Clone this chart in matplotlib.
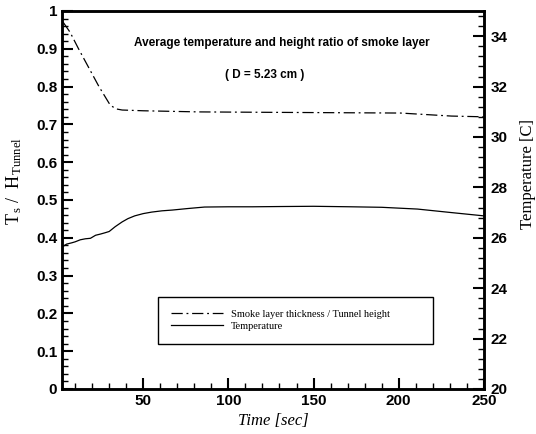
import matplotlib
matplotlib.use("Agg")
import matplotlib.pyplot as plt
import matplotlib.transforms as mtransforms
from matplotlib.ticker import MultipleLocator
from matplotlib.font_manager import FontProperties

plt.rcParams['mathtext.fontset'] = 'custom'
plt.rcParams['mathtext.rm'] = 'Liberation Serif'
plt.rcParams['mathtext.it'] = 'Liberation Serif:italic'

# 烟层厚度 / 隧道高度
t_smoke = [3, 7, 12, 18, 24, 30.6, 34, 37.6, 50, 83, 120, 160, 201, 231, 250]
ratio = [0.97, 0.944, 0.90, 0.85, 0.80, 0.751, 0.741, 0.738, 0.736, 0.733, 0.732, 0.731, 0.730, 0.722, 0.720]

# 平均温度
t_temp = [2.5, 5, 8, 10, 13, 16, 19, 22, 25, 27.6, 30, 33.5, 37.6, 41, 45, 50, 55, 61, 67, 76, 86, 100, 114, 130, 150, 172, 190, 211, 231, 250]
temp = [25.64, 25.75, 25.80, 25.84, 25.92, 25.96, 25.98, 26.10, 26.15, 26.20, 26.25, 26.44, 26.63, 26.76, 26.87, 26.96, 27.02, 27.07, 27.10, 27.16, 27.22, 27.23, 27.23, 27.24, 27.25, 27.23, 27.21, 27.14, 27.00, 26.87]

lab_smoke = 'Smoke layer thickness / Tunnel height'
lab_temp = 'Temperature'

fig = plt.figure(figsize=(5.36, 4.34), dpi=100)
ax = fig.add_axes([0.1157, 0.1037, 0.787, 0.871])
ax2 = ax.twinx()

l1, = ax.plot(t_smoke, ratio, color='black', lw=0.9, dashes=(9, 3, 1.5, 3), label=lab_smoke)
l2, = ax2.plot(t_temp, temp, color='black', lw=0.9, label=lab_temp)

ax.set_xlim(2.3, 250)
ax.set_ylim(0, 1)
ax2.set_ylim(20, 35)

ax.set_xticks([50, 100, 150, 200, 250])
ax.xaxis.set_minor_locator(MultipleLocator(10))
ax.yaxis.set_minor_locator(MultipleLocator(0.02))
ax2.yaxis.set_minor_locator(MultipleLocator(0.4))
ax2.set_yticks([20, 22, 24, 26, 28, 30, 32, 34])
ax.set_yticks([0, 0.1, 0.2, 0.3, 0.4, 0.5, 0.6, 0.7, 0.8, 0.9, 1.0])
ax.set_yticklabels(['0', '0.1', '0.2', '0.3', '0.4', '0.5', '0.6', '0.7', '0.8', '0.9', '1'])

tickfont = FontProperties(family='Liberation Sans', size=11, weight='bold')
for a in (ax, ax2):
    for sp in a.spines.values():
        sp.set_linewidth(1.8)
for lbl in ax.get_xticklabels() + ax.get_yticklabels() + ax2.get_yticklabels():
    lbl.set_fontproperties(tickfont)

# 250 稍微左移，避免和右轴 20 重叠
last = ax.get_xticklabels()[-1]
last.set_transform(last.get_transform() + mtransforms.ScaledTranslation(-5 / 100, 0, fig.dpi_scale_trans))

ax.tick_params(axis='both', which='major', direction='in', length=8, width=1.5, top=False, right=False)
ax.tick_params(axis='both', which='minor', direction='in', length=4, width=1.0, top=False, right=False)
ax2.tick_params(axis='y', which='major', direction='in', length=8, width=1.5, pad=5)
ax2.tick_params(axis='y', which='minor', direction='in', length=4, width=1.0)

ax.set_xlabel('Time [sec]', family='Liberation Serif', style='italic', fontsize=12)
ax.set_ylabel(r'$\mathrm{T}_{\,\mathrm{s}}\ /\ \ \mathrm{H}_{\,\mathrm{Tunnel}}$', fontsize=13)
ax2.set_ylabel('Temperature [C]', family='Liberation Serif', fontsize=12)
ax.yaxis.set_label_coords(-0.09, 0.55)
ax2.yaxis.set_label_coords(1.085, 0.57)

ax.text(0.522, 0.916, 'Average temperature and height ratio of smoke layer', transform=ax.transAxes,
        ha='center', va='center', family='Liberation Sans', weight='bold', fontsize=8.5)
ax.text(0.48, 0.83, '( D = 5.23 cm )', transform=ax.transAxes,
        ha='center', va='center', family='Liberation Sans', weight='bold', fontsize=8.5)

leg = ax2.legend([l1, l2], [lab_smoke, lab_temp], loc='center', mode='expand',
                 bbox_to_anchor=(0.216, 0.108, 0.675, 0.148), fancybox=False,
                 edgecolor='black', framealpha=1, handlelength=5,
                 prop=dict(family='Liberation Serif', size=7.5), borderpad=1.2, labelspacing=0.3)
leg.get_frame().set_linewidth(1.0)

fig.savefig('out.png', dpi=100)
